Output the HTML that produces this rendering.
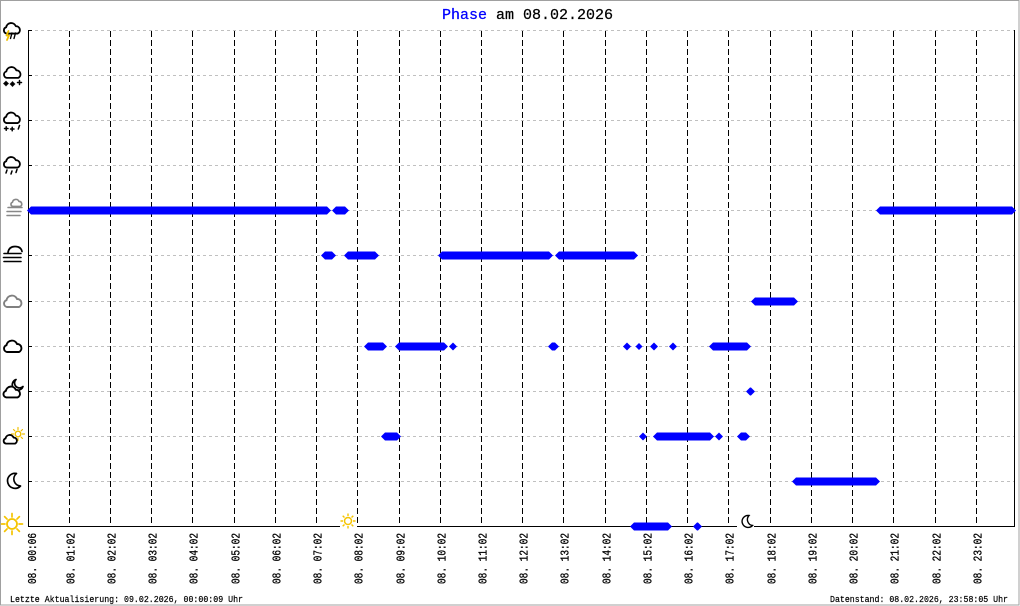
<!DOCTYPE html>
<html><head><meta charset="utf-8"><style>
html,body{margin:0;padding:0;background:#fff;}
svg{display:block;}
</style></head><body>
<svg width="1020" height="606" viewBox="0 0 1020 606" xmlns="http://www.w3.org/2000/svg">
<rect x="0" y="0" width="1020" height="606" fill="#fff"/>
<rect x="0.5" y="0.5" width="1018.5" height="604.5" fill="none" stroke="#a0a0a0" stroke-width="1"/>

<text x="442" y="19" font-family="Liberation Mono, monospace" font-size="15" fill="#000" stroke="#000" stroke-width="0.25"><tspan fill="#0000ff" stroke="#0000ff">Phase</tspan> am 08.02.2026</text>

<g stroke="#c0c0c0" stroke-width="1" stroke-dasharray="3,3">
<line x1="29" y1="30.5" x2="1014" y2="30.5"/>
<line x1="29" y1="75.5" x2="1014" y2="75.5"/>
<line x1="29" y1="120.5" x2="1014" y2="120.5"/>
<line x1="29" y1="165.5" x2="1014" y2="165.5"/>
<line x1="29" y1="210.5" x2="1014" y2="210.5"/>
<line x1="29" y1="255.5" x2="1014" y2="255.5"/>
<line x1="29" y1="301.5" x2="1014" y2="301.5"/>
<line x1="29" y1="346.5" x2="1014" y2="346.5"/>
<line x1="29" y1="391.5" x2="1014" y2="391.5"/>
<line x1="29" y1="436.5" x2="1014" y2="436.5"/>
<line x1="29" y1="481.5" x2="1014" y2="481.5"/>
</g>

<g stroke="#000" stroke-width="1" stroke-dasharray="6,3">
<line x1="69.5" y1="31" x2="69.5" y2="525"/>
<line x1="110.5" y1="31" x2="110.5" y2="525"/>
<line x1="151.5" y1="31" x2="151.5" y2="525"/>
<line x1="192.5" y1="31" x2="192.5" y2="525"/>
<line x1="234.5" y1="31" x2="234.5" y2="525"/>
<line x1="275.5" y1="31" x2="275.5" y2="525"/>
<line x1="316.5" y1="31" x2="316.5" y2="525"/>
<line x1="357.5" y1="31" x2="357.5" y2="525"/>
<line x1="399.5" y1="31" x2="399.5" y2="525"/>
<line x1="440.5" y1="31" x2="440.5" y2="525"/>
<line x1="481.5" y1="31" x2="481.5" y2="525"/>
<line x1="522.5" y1="31" x2="522.5" y2="525"/>
<line x1="563.5" y1="31" x2="563.5" y2="525"/>
<line x1="605.5" y1="31" x2="605.5" y2="525"/>
<line x1="646.5" y1="31" x2="646.5" y2="525"/>
<line x1="687.5" y1="31" x2="687.5" y2="525"/>
<line x1="728.5" y1="31" x2="728.5" y2="525"/>
<line x1="770.5" y1="31" x2="770.5" y2="525"/>
<line x1="811.5" y1="31" x2="811.5" y2="525"/>
<line x1="852.5" y1="31" x2="852.5" y2="525"/>
<line x1="893.5" y1="31" x2="893.5" y2="525"/>
<line x1="935.5" y1="31" x2="935.5" y2="525"/>
<line x1="976.5" y1="31" x2="976.5" y2="525"/>
</g>

<g stroke="#000" stroke-width="1" fill="none">
<line x1="28.5" y1="30" x2="28.5" y2="527"/>
<line x1="28" y1="526.5" x2="1015" y2="526.5"/>
<line x1="1014.5" y1="30" x2="1014.5" y2="527"/>
<line x1="28" y1="30.5" x2="32" y2="30.5"/>
<line x1="28" y1="75.5" x2="32" y2="75.5"/>
<line x1="28" y1="120.5" x2="32" y2="120.5"/>
<line x1="28" y1="165.5" x2="32" y2="165.5"/>
<line x1="28" y1="210.5" x2="32" y2="210.5"/>
<line x1="28" y1="255.5" x2="32" y2="255.5"/>
<line x1="28" y1="301.5" x2="32" y2="301.5"/>
<line x1="28" y1="346.5" x2="32" y2="346.5"/>
<line x1="28" y1="391.5" x2="32" y2="391.5"/>
<line x1="28" y1="436.5" x2="32" y2="436.5"/>
<line x1="28" y1="481.5" x2="32" y2="481.5"/>
</g>

<!-- left icons -->
<g fill="none" stroke-linecap="round" stroke-linejoin="round">
  <!-- 0 thunderstorm -->
  <path transform="translate(2.5,22.5) scale(0.92)" d="M4.5,12 A3.5,3.5 0 0 1 4,5.2 A5.5,5.5 0 0 1 14.5,4 A4.2,4.2 0 0 1 16.5,12 Z" stroke="#000" stroke-width="2"/>
  <polyline points="8.5,31 6.5,35.5 9,35.5 7,40" stroke="#f0c000" stroke-width="1.8"/>
  <line x1="12" y1="33" x2="10.5" y2="38.5" stroke="#000" stroke-width="1.4"/>
  <line x1="15.5" y1="33" x2="14" y2="38.5" stroke="#000" stroke-width="1.4"/>
  <!-- 1 snow -->
  <path transform="translate(2.5,66.5) scale(0.95)" d="M4.5,12 A3.5,3.5 0 0 1 4,5.2 A5.5,5.5 0 0 1 14.5,4 A4.2,4.2 0 0 1 16.5,12 Z" stroke="#000" stroke-width="1.9"/>
  <g stroke="#000" stroke-width="1.5">
    <path d="M4,83.5 h4 M6,81.5 v4 M5,82.5 l2,2 M7,82.5 l-2,2 M10.5,84 h4 M12.5,82 v4 M11.5,83 l2,2 M13.5,83 l-2,2 M17.5,82.5 h4 M19.5,80.5 v4"/>
  </g>
  <!-- 2 sleet -->
  <path transform="translate(2.5,112) scale(0.92)" d="M4.5,12 A3.5,3.5 0 0 1 4,5.2 A5.5,5.5 0 0 1 14.5,4 A4.2,4.2 0 0 1 16.5,12 Z" stroke="#000" stroke-width="2"/>
  <g stroke="#000" stroke-width="1.5">
    <path d="M4.5,128.5 h3.5 M6.2,126.7 v3.5 M10.5,129 h3.5 M12.2,127.2 v3.5 M19.5,125.5 l-1.2,3.5"/>
  </g>
  <!-- 3 rain -->
  <path transform="translate(2.5,156.5) scale(0.92)" d="M4.5,12 A3.5,3.5 0 0 1 4,5.2 A5.5,5.5 0 0 1 14.5,4 A4.2,4.2 0 0 1 16.5,12 Z" stroke="#000" stroke-width="2"/>
  <g stroke="#000" stroke-width="1.5">
    <path d="M7,170 l-1,3 M12,171 l-1,3 M17,169.5 l-1,3"/>
  </g>
  <!-- 4 partial fog (gray) -->
  <path transform="translate(10,199) scale(0.62)" d="M4.5,12 A3.5,3.5 0 0 1 4,5.2 A5.5,5.5 0 0 1 14.5,4 A4.2,4.2 0 0 1 16.5,12 Z" stroke="#888" stroke-width="2.6"/>
  <g stroke="#888" stroke-width="1.5">
    <line x1="8" y1="207.5" x2="22" y2="207.5"/>
    <line x1="7" y1="211.5" x2="21" y2="211.5"/>
    <line x1="7" y1="215.5" x2="20" y2="215.5"/>
  </g>
  <!-- 5 fog -->
  <path d="M8,252.5 Q9,246.5 15,246.5 Q21,246.5 22,251.5" stroke="#000" stroke-width="1.7"/>
  <g stroke="#000" stroke-width="1.6">
    <line x1="4" y1="253.5" x2="21" y2="253.5"/>
    <line x1="3.5" y1="257.5" x2="21" y2="257.5"/>
    <line x1="4" y1="261.5" x2="21" y2="261.5"/>
  </g>
  <!-- 6 overcast gray -->
  <path transform="translate(2.5,295) scale(1.0)" d="M4.5,12 A3.5,3.5 0 0 1 4,5.2 A5.5,5.5 0 0 1 14.5,4 A4.2,4.2 0 0 1 16.5,12 Z" stroke="#808080" stroke-width="1.9"/>
  <!-- 7 cloudy -->
  <path transform="translate(2.5,340) scale(1.0)" d="M4.5,12 A3.5,3.5 0 0 1 4,5.2 A5.5,5.5 0 0 1 14.5,4 A4.2,4.2 0 0 1 16.5,12 Z" stroke="#000" stroke-width="1.9"/>
  <!-- 8 cloud with moon -->
  <path d="M16,379.5 A5.5,5.5 0 1 0 23,386.5 A4.2,4.2 0 0 1 16,379.5 Z" stroke="#000" stroke-width="1.7"/>
  <path transform="translate(2,386) scale(0.95)" d="M4.5,12 A3.5,3.5 0 0 1 4,5.2 A5.5,5.5 0 0 1 14.5,4 A4.2,4.2 0 0 1 16.5,12 Z" stroke="#000" stroke-width="2" fill="#fff"/>
  <!-- 9 cloud with sun -->
  <circle cx="18" cy="434" r="2.8" stroke="#f0c000" stroke-width="1.4"/>
  <g stroke="#f0c000" stroke-width="1.2">
    <path d="M18,429.5 v-2 M18,438.5 v2 M22.5,434 h2 M13.5,434 h-2 M21.2,430.8 l1.3,-1.3 M21.2,437.2 l1.3,1.3 M14.8,430.8 l-1.3,-1.3"/>
  </g>
  <path transform="translate(2.5,434.5) scale(0.76)" d="M4.5,12 A3.5,3.5 0 0 1 4,5.2 A5.5,5.5 0 0 1 14.5,4 A4.2,4.2 0 0 1 16.5,12 Z" stroke="#000" stroke-width="2.4" fill="#fff"/>
  <!-- 10 moon -->
  <path d="M16.5,473.5 A7.5,7.5 0 1 0 20.5,486 A7,7 0 0 1 16.5,473.5 Z" stroke="#000" stroke-width="1.7"/>
  <!-- 11 sun -->
  <circle cx="12" cy="524" r="5" stroke="#f5c400" stroke-width="1.8"/>
  <g stroke="#f5c400" stroke-width="1.7">
    <path d="M19,524 H22.5 M5,524 H1.5 M12,517 V513.5 M12,531 V534.5 M16.95,528.95 L19.4,531.4 M7.05,519.05 L4.6,516.6 M16.95,519.05 L19.4,516.6 M7.05,528.95 L4.6,531.4"/>
  </g>
</g>

<!-- sunrise / sunset markers -->
<rect x="340" y="511" width="17" height="18" fill="#fff"/>
<circle cx="348" cy="521" r="3.5" fill="none" stroke="#f5c400" stroke-width="1.5"/>
<path d="M353,521 H355.5 M343,521 H340.5 M348,516 V513.5 M348,526 V528.5 M351.5,524.5 L353.3,526.3 M344.5,517.5 L342.7,515.7 M351.5,517.5 L353.3,515.7 M344.5,524.5 L342.7,526.3" stroke="#f5c400" stroke-width="1.4" fill="none"/>
<rect x="737" y="512" width="17" height="17" fill="#fff"/>
<path d="M749,515.5 A6,6 0 1 0 752.5,525.5 A6,6 0 0 1 749,515.5 Z" fill="none" stroke="#000" stroke-width="1.4"/>

<!-- data markers -->
<g fill="#0000ff">
<polygon points="27,210.5 31,206.5 327,206.5 331,210.5 327,214.5 31,214.5"/>
<polygon points="332,210.5 336,206.5 345,206.5 349,210.5 345,214.5 336,214.5"/>
<polygon points="876,210.5 880,206.5 1012,206.5 1016,210.5 1012,214.5 880,214.5"/>

<polygon points="321,255.5 325,251.5 332,251.5 336,255.5 332,259.5 325,259.5"/>
<polygon points="344,255.5 348,251.5 375,251.5 379,255.5 375,259.5 348,259.5"/>
<polygon points="438,255.5 442,251.5 549,251.5 553,255.5 549,259.5 442,259.5"/>
<polygon points="555,255.5 559,251.5 634,251.5 638,255.5 634,259.5 559,259.5"/>

<polygon points="751,301.5 755,297.5 794,297.5 798,301.5 794,305.5 755,305.5"/>

<polygon points="364,346.5 368,342.5 383,342.5 387,346.5 383,350.5 368,350.5"/>
<polygon points="395,346.5 399,342.5 444,342.5 448,346.5 444,350.5 399,350.5"/>
<polygon points="449,346.5 453,342.5 457,346.5 453,350.5"/>
<polygon points="548,346.5 552,342.5 555,342.5 559,346.5 555,350.5 552,350.5"/>
<polygon points="623,346.5 627,342.5 631,346.5 627,350.5"/>
<polygon points="635.5,346.5 639,343 642.5,346.5 639,350"/>
<polygon points="650,346.5 654,342.5 658,346.5 654,350.5"/>
<polygon points="669,346.5 673,342.5 677,346.5 673,350.5"/>
<polygon points="709,346.5 713,342.5 747,342.5 751,346.5 747,350.5 713,350.5"/>

<polygon points="746,391.5 750,387.5 751,387.5 755,391.5 751,395.5 750,395.5"/>

<polygon points="381,436.5 385,432.5 397,432.5 401,436.5 397,440.5 385,440.5"/>
<polygon points="639,436.5 643,432.5 647,436.5 643,440.5"/>
<polygon points="653,436.5 657,432.5 710,432.5 714,436.5 710,440.5 657,440.5"/>
<polygon points="715,436.5 719,432.5 723,436.5 719,440.5"/>
<polygon points="737,436.5 741,432.5 746,432.5 750,436.5 746,440.5 741,440.5"/>

<polygon points="792,481.5 796,477.5 876,477.5 880,481.5 876,485.5 796,485.5"/>

<polygon points="630,526.5 634,522.5 668,522.5 672,526.5 668,530.5 634,530.5"/>
<polygon points="693,526.5 697,522.5 698,522.5 702,526.5 698,530.5 697,530.5"/>
</g>

<!-- x axis labels -->
<g font-family="Liberation Mono, monospace" font-size="11.5" fill="#000" stroke="#000" stroke-width="0.3">
<text transform="translate(36,584) rotate(-90)" textLength="51" lengthAdjust="spacingAndGlyphs">08. 00:06</text>
<text transform="translate(74.5,584) rotate(-90)" textLength="51" lengthAdjust="spacingAndGlyphs">08. 01:02</text>
<text transform="translate(115.5,584) rotate(-90)" textLength="51" lengthAdjust="spacingAndGlyphs">08. 02:02</text>
<text transform="translate(156.5,584) rotate(-90)" textLength="51" lengthAdjust="spacingAndGlyphs">08. 03:02</text>
<text transform="translate(197.5,584) rotate(-90)" textLength="51" lengthAdjust="spacingAndGlyphs">08. 04:02</text>
<text transform="translate(239.5,584) rotate(-90)" textLength="51" lengthAdjust="spacingAndGlyphs">08. 05:02</text>
<text transform="translate(280.5,584) rotate(-90)" textLength="51" lengthAdjust="spacingAndGlyphs">08. 06:02</text>
<text transform="translate(321.5,584) rotate(-90)" textLength="51" lengthAdjust="spacingAndGlyphs">08. 07:02</text>
<text transform="translate(362.5,584) rotate(-90)" textLength="51" lengthAdjust="spacingAndGlyphs">08. 08:02</text>
<text transform="translate(404.5,584) rotate(-90)" textLength="51" lengthAdjust="spacingAndGlyphs">08. 09:02</text>
<text transform="translate(445.5,584) rotate(-90)" textLength="51" lengthAdjust="spacingAndGlyphs">08. 10:02</text>
<text transform="translate(486.5,584) rotate(-90)" textLength="51" lengthAdjust="spacingAndGlyphs">08. 11:02</text>
<text transform="translate(527.5,584) rotate(-90)" textLength="51" lengthAdjust="spacingAndGlyphs">08. 12:02</text>
<text transform="translate(568.5,584) rotate(-90)" textLength="51" lengthAdjust="spacingAndGlyphs">08. 13:02</text>
<text transform="translate(610.5,584) rotate(-90)" textLength="51" lengthAdjust="spacingAndGlyphs">08. 14:02</text>
<text transform="translate(651.5,584) rotate(-90)" textLength="51" lengthAdjust="spacingAndGlyphs">08. 15:02</text>
<text transform="translate(692.5,584) rotate(-90)" textLength="51" lengthAdjust="spacingAndGlyphs">08. 16:02</text>
<text transform="translate(733.5,584) rotate(-90)" textLength="51" lengthAdjust="spacingAndGlyphs">08. 17:02</text>
<text transform="translate(775.5,584) rotate(-90)" textLength="51" lengthAdjust="spacingAndGlyphs">08. 18:02</text>
<text transform="translate(816.5,584) rotate(-90)" textLength="51" lengthAdjust="spacingAndGlyphs">08. 19:02</text>
<text transform="translate(857.5,584) rotate(-90)" textLength="51" lengthAdjust="spacingAndGlyphs">08. 20:02</text>
<text transform="translate(898.5,584) rotate(-90)" textLength="51" lengthAdjust="spacingAndGlyphs">08. 21:02</text>
<text transform="translate(940.5,584) rotate(-90)" textLength="51" lengthAdjust="spacingAndGlyphs">08. 22:02</text>
<text transform="translate(981.5,584) rotate(-90)" textLength="51" lengthAdjust="spacingAndGlyphs">08. 23:02</text>
</g>

<!-- footer -->
<g font-family="Liberation Mono, monospace" font-size="9" fill="#000" stroke="#000" stroke-width="0.2">
<text x="10" y="602" textLength="233" lengthAdjust="spacingAndGlyphs">Letzte Aktualisierung: 09.02.2026, 00:00:09 Uhr</text>
<text x="830" y="602" textLength="178" lengthAdjust="spacingAndGlyphs">Datenstand: 08.02.2026, 23:58:05 Uhr</text>
</g>
</svg>
</body></html>
